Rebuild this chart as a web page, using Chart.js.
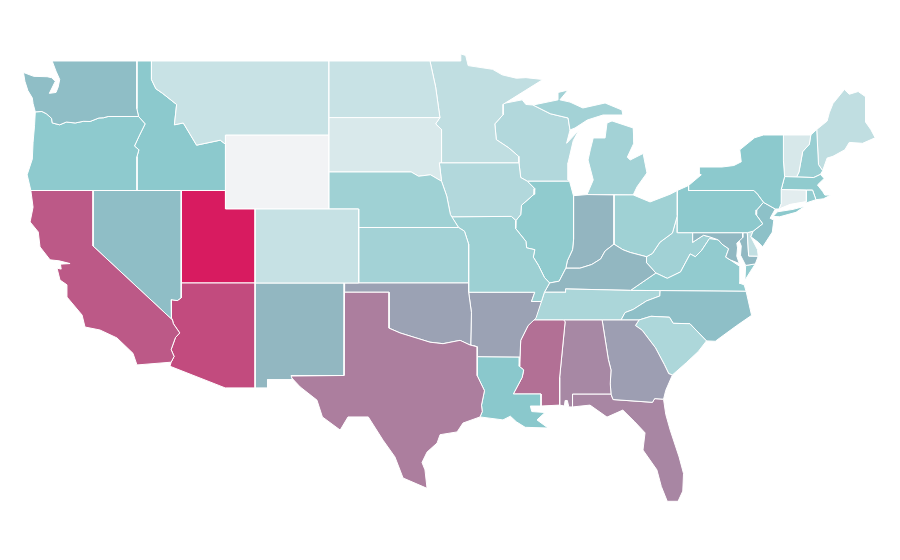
<!DOCTYPE html>
<html>
<head>
<meta charset="utf-8">
<style>html,body{margin:0;padding:0;background:#fff}canvas{display:block}</style>
<script src="https://cdn.jsdelivr.net/npm/chart.js@4"></script>
</head>
<body>
<canvas id="c" width="900" height="560"></canvas>
<script>
// State outlines, longitude,latitude pairs
const WA=[-122.76,49,-117.03,49,-117.04,46.42,-116.92,46,-118.98,46,-119.3,45.93,-119.6,45.92,-120.2,45.73,-120.65,45.74,-121.2,45.65,-121.8,45.7,-122.25,45.55,-122.75,45.65,-122.8,45.9,-123.15,46.15,-123.45,46.27,-123.9,46.25,-124.05,46.7,-124.1,47,-124.4,47.4,-124.6,47.9,-124.7,48.38,-124,48.17,-123.1,48.15,-122.8,48.1,-122.55,47.9,-122.95,47.25,-122.5,47.3,-122.35,47.6,-122.25,48,-122.5,48.45];
const OR=[-123.9,46.25,-123.45,46.27,-123.15,46.15,-122.8,45.9,-122.75,45.65,-122.25,45.55,-121.8,45.7,-121.2,45.65,-120.65,45.74,-120.2,45.73,-119.6,45.92,-119.3,45.93,-118.98,46,-116.92,46,-116.48,45.6,-116.85,45,-117.2,44.4,-116.9,44.2,-117.03,43.83,-117.03,42,-124.2,42,-124.45,42.85,-124.1,43.7,-124.05,44.6,-123.95,45.5];
const CA=[-124.2,42,-120,42,-120,39,-114.63,35,-114.57,34.8,-114.14,34.3,-114.43,34.05,-114.72,33.4,-114.52,33.03,-114.72,32.72,-117.03,32.57,-117.3,33.2,-118.38,34.03,-119.53,34.46,-120.54,34.62,-120.74,35.27,-121.76,36.24,-121.76,36.9,-122.23,37.16,-122.43,37.8,-122.15,37.75,-122.2,38.02,-121.55,38.05,-122.3,38.2,-122.9,38.25,-123.58,38.95,-123.7,39.76,-124.25,40.3,-124.05,41.1];
const NV=[-120,42,-114.04,42,-114.04,36.2,-114.3,36.05,-114.72,36.1,-114.7,35.1,-114.63,35,-120,39];
const AZ=[-114.04,37,-109.05,37,-109.05,31.33,-111.07,31.33,-114.8,32.5,-114.72,32.72,-114.52,33.03,-114.72,33.4,-114.43,34.05,-114.14,34.3,-114.57,34.8,-114.63,35,-114.7,35.1,-114.72,36.1,-114.3,36.05,-114.04,36.2];
const UT=[-114.04,42,-111.05,42,-111.05,41,-109.05,41,-109.05,37,-114.04,37];
const WY=[-111.05,45,-104.05,45,-104.05,41,-111.05,41];
const CO=[-109.05,41,-102.05,41,-102.05,37,-109.05,37];
const NM=[-109.05,37,-103,37,-103.04,32,-106.62,32,-106.53,31.78,-108.21,31.78,-108.21,31.33,-109.05,31.33];
const TX=[-103.04,36.5,-100,36.5,-100,34.56,-99.25,34.3,-98.04,34,-97.23,33.8,-96.35,33.72,-95.2,33.9,-94.53,33.65,-94.04,33.55,-94.04,33.02,-94.04,31.99,-93.55,31.18,-93.75,30.4,-93.7,30.05,-93.85,29.76,-95,29.43,-95.4,28.95,-96.55,28.8,-96.75,28.35,-97.43,27.86,-97.77,27.3,-97.57,26.9,-97.43,25.9,-99.05,26.46,-99.6,27.6,-100.4,28.5,-101.4,29.76,-102.77,29.76,-103.3,29.05,-104.5,29.76,-104.87,30.67,-106,31.38,-106.69,31.97,-103.04,32];
const OK=[-103,37,-94.62,37,-94.62,36.5,-94.43,35.4,-94.48,33.64,-94.04,33.55,-94.53,33.65,-95.2,33.9,-96.35,33.72,-97.23,33.8,-98.04,34,-99.25,34.3,-100,34.56,-100,36.5,-103.04,36.5];
const KS=[-102.05,40,-95.3,40,-94.9,39.8,-94.62,39.1,-94.62,37,-102.05,37];
const NE=[-104.05,43,-98.5,43,-98,42.77,-97.2,42.85,-96.45,42.5,-96.1,41.7,-95.85,40.7,-95.3,40,-102.05,40,-102.05,41,-104.05,41];
const SD=[-104.05,45.94,-96.56,45.94,-96.85,45.6,-96.45,45.3,-96.45,43.5,-96.6,43.5,-96.45,42.5,-97.2,42.85,-98,42.77,-98.5,43,-104.05,43];
const ND=[-104.05,49,-97.23,49,-96.85,47.6,-96.56,45.94,-104.05,45.94];
const MT=[-116.05,49,-104.05,49,-104.05,45,-111.05,45,-111.05,44.5,-111.4,44.72,-113,44.45,-113.45,45.05,-113.9,45.65,-114.5,45.55,-114.35,46.65,-115.3,47.25,-115.75,47.5,-116.05,48];
const ID=[-117.03,49,-116.05,49,-116.05,48,-115.75,47.5,-115.3,47.25,-114.35,46.65,-114.5,45.55,-113.9,45.65,-113.45,45.05,-113,44.45,-111.4,44.72,-111.05,44.5,-111.05,42,-117.03,42,-117.03,43.83,-116.9,44.2,-117.2,44.4,-116.85,45,-116.48,45.6,-116.92,46,-117.04,46.42];
const MN=[-97.23,49,-95.15,49,-95.15,49.38,-94.82,49.3,-94.65,48.75,-93,48.55,-92.35,48.25,-91.4,48.07,-90.75,48.1,-89.6,48,-92.1,46.75,-92.29,46.66,-92.29,46.1,-92.85,45.6,-92.75,44.75,-91.9,44.3,-91.25,43.85,-91.22,43.5,-96.45,43.5,-96.45,45.3,-96.85,45.6,-96.56,45.94,-96.85,47.6];
const IA=[-96.45,43.5,-91.22,43.5,-91.1,42.7,-90.65,42.5,-90.15,42.1,-90.2,41.8,-91.05,41.2,-91.1,40.7,-91.42,40.38,-91.73,40.6,-95.77,40.58,-95.85,40.7,-96.1,41.7,-96.45,42.5,-96.6,43.5];
const MO=[-95.77,40.58,-91.73,40.6,-91.42,40.38,-91.45,39.95,-90.75,39.25,-90.7,38.9,-90.15,38.8,-90.25,38.4,-89.9,37.95,-89.5,37.3,-89.15,37,-89.5,36.5,-89.7,36,-90.37,36,-90.15,36.5,-94.62,36.5,-94.62,39.1,-94.9,39.8,-95.3,40];
const AR=[-94.62,36.5,-90.15,36.5,-90.37,36,-89.7,36,-90.07,35.1,-90.6,34.7,-91.1,33.9,-91.15,33,-94.04,33.02,-94.04,33.55,-94.48,33.64,-94.43,35.4];
const LA=[-94.04,33.02,-91.15,33,-91.2,32.5,-90.9,32.3,-91,31.9,-91.6,31,-89.73,31,-89.73,30.35,-90.45,30.35,-90.35,30.05,-89.46,30,-90,29.6,-89.25,29.16,-90.8,29.2,-91.4,29.5,-91.8,29.8,-92.3,29.6,-93.85,29.76,-93.7,30.05,-93.75,30.4,-93.55,31.18,-94.04,31.99];
const MS=[-90.3,35,-88.2,35,-88.1,34.9,-88.47,31.9,-88.47,30.4,-89.73,30.35,-89.73,31,-91.6,31,-91,31.9,-90.9,32.3,-91.2,32.5,-91.15,33,-91.1,33.9,-90.6,34.7];
const AL=[-88.2,35,-85.6,35,-85.18,32.87,-85,32.3,-85.05,31.55,-85,31,-87.6,31,-87.6,30.3,-87.85,30.3,-87.95,30.65,-88.1,30.65,-88.15,30.35,-88.47,30.4,-88.47,31.9,-88.1,34.9];
const GA=[-85.6,35,-83.11,35,-83.35,34.7,-82.9,34.45,-82,33.5,-81.4,32.6,-81.1,32.1,-80.85,32.03,-81.3,31.2,-81.45,30.72,-82.05,30.75,-82.2,30.55,-84.86,30.7,-85,31,-85.05,31.55,-85,32.3,-85.18,32.87];
const FL=[-87.6,31,-85,31,-84.86,30.7,-82.2,30.55,-82.05,30.75,-81.45,30.72,-81.3,29.9,-81,29.05,-80.4,27.6,-80.1,26.7,-80.15,25.75,-80.47,25.2,-81.2,25.2,-81.6,26,-81.9,26.9,-82.84,27.97,-82.7,28.9,-83.4,29.5,-84.2,30.13,-85.27,29.75,-86.42,30.4,-87.6,30.3];
const SC=[-83.35,34.7,-83.11,35,-82.3,35.2,-81.05,35.15,-80.8,34.82,-79.67,34.8,-78.55,33.87,-79.1,33.3,-79.9,32.7,-80.85,32.03,-81.1,32.1,-81.4,32.6,-82,33.5,-82.9,34.45];
const NC=[-81.68,36.59,-75.87,36.55,-75.5,35.25,-76.5,34.7,-77.7,34,-77.95,33.85,-78.55,33.87,-79.67,34.8,-80.8,34.82,-81.05,35.15,-82.3,35.2,-83.11,35,-84.32,35,-84.05,35.4,-83.5,35.57,-82.6,36.03,-81.7,36.3];
const TN=[-90.3,35,-89.7,36,-89.5,36.5,-88.05,36.5,-88.07,36.68,-83.68,36.6,-81.68,36.59,-81.7,36.3,-82.6,36.03,-83.5,35.57,-84.05,35.4,-84.32,35,-85.6,35,-88.2,35];
const KY=[-89.5,36.5,-89.15,37,-88.5,37.1,-88.05,37.8,-87.1,37.8,-86.3,38,-85.7,38.3,-85.4,38.73,-84.8,39.1,-84.2,38.8,-83.7,38.65,-82.6,38.42,-82.6,38.1,-81.97,37.54,-83.68,36.6,-88.07,36.68,-88.05,36.5];
const IL=[-90.65,42.5,-87.8,42.5,-87.53,41.7,-87.53,39.35,-87.6,38.8,-87.95,38.2,-88.05,37.8,-88.5,37.1,-89.15,37,-89.5,37.3,-89.9,37.95,-90.25,38.4,-90.15,38.8,-90.7,38.9,-90.75,39.25,-91.45,39.95,-91.42,40.38,-91.1,40.7,-91.05,41.2,-90.2,41.8,-90.15,42.1];
const IN=[-87.53,41.72,-86.62,41.78,-84.8,41.76,-84.8,39.1,-85.4,38.73,-85.7,38.3,-86.3,38,-87.1,37.8,-88.05,37.8,-87.95,38.2,-87.6,38.8,-87.53,39.35];
const OH=[-84.8,41.76,-83.5,41.76,-82.36,41.38,-81,41.8,-80.52,42,-80.52,40.64,-80.85,39.7,-81.7,39.2,-82.2,38.6,-82.6,38.42,-83.7,38.65,-84.2,38.8,-84.8,39.1];
const MI_lower=[-86.62,41.78,-86.2,42.57,-86.55,43.65,-86.4,44.2,-86.2,44.84,-85.4,44.84,-85.27,45.65,-84.93,45.76,-83.5,45.38,-83.45,44.57,-83.9,43.8,-83.7,43.65,-82.83,44,-82.57,42.95,-83.24,42.2,-83.5,41.76];
const MI_upper=[-90.27,46.62,-88.58,46.9,-88.58,47.3,-87.9,47.43,-88.45,46.9,-87.77,46.78,-86.9,46.46,-85.4,46.73,-84.26,46.35,-84.2,46.08,-85.54,46.08,-86.6,45.81,-87.43,45.38,-87.77,45.27,-87.9,45.92,-89.1,46.15];
const WI=[-92.3,46.7,-91,46.9,-90.75,46.65,-90.27,46.62,-89.1,46.15,-87.9,45.92,-87.77,45.27,-88,44.55,-87.15,45.28,-87.55,44.7,-87.9,43.5,-87.9,42.57,-87.8,42.5,-90.65,42.5,-91.1,42.7,-91.22,43.5,-91.25,43.85,-91.9,44.3,-92.75,44.75,-92.85,45.6,-92.29,46.1];
const PA=[-80.52,42,-79.76,42.27,-79.76,42,-75.35,42,-75.1,41.8,-74.7,41.36,-75.15,40.95,-75.2,40.7,-74.75,40.2,-75.4,39.8,-75.79,39.72,-80.52,39.72];
const NY=[-79.76,42,-75.35,42,-75.1,41.8,-74.7,41.36,-73.9,41,-73.65,41,-73.5,41.3,-73.5,42.05,-73.27,42.75,-73.35,43.6,-73.35,45,-74.7,45,-75.3,44.85,-76.3,44.2,-76.2,43.55,-76.7,43.35,-77.5,43.27,-79.05,43.27,-79.05,42.9,-78.9,42.85,-79.76,42.27];
const NY_long=[-74.05,40.6,-73.75,40.85,-72.7,40.98,-71.9,41.15,-72.5,40.82,-73.6,40.58];
const NJ=[-74.7,41.36,-73.9,41,-74.25,40.5,-74,40.4,-74.1,39.75,-74.75,38.95,-75.05,39.2,-75.55,39.5,-75.4,39.8,-74.75,40.2,-75.2,40.7,-75.15,40.95];
const DE=[-75.79,39.72,-75.4,39.8,-75.55,39.5,-75.1,38.8,-75.05,38.45,-75.7,38.46];
const MD_west=[-79.48,39.72,-76.1,39.72,-76.1,39.45,-76.5,39.15,-76.45,38.9,-76.5,38.45,-76.33,38.05,-76.95,38.25,-77.25,38.4,-77.05,38.85,-77.5,39.1,-77.75,39.33,-78.35,39.5,-78.75,39.58,-79.48,39.2];
const MD_east=[-76.1,39.72,-75.79,39.72,-75.7,38.46,-75.05,38.45,-75.25,38.03,-75.9,37.95,-76.25,38.5,-76.2,39,-76.35,39.3,-76.1,39.5];
const VA=[-83.68,36.6,-81.68,36.59,-75.87,36.55,-76,36.9,-76.35,37,-76.3,37.55,-76.3,37.9,-76.95,38.25,-77.25,38.4,-77.05,38.85,-77.5,39.1,-77.75,39.33,-78.35,39.4,-78.87,38.77,-79.3,38.42,-79.65,38.57,-80.3,37.6,-81.2,37.25,-81.97,37.54];
const VA_shore=[-75.25,38.03,-75.9,37.95,-75.95,37.15,-75.6,37.6];
const WV=[-82.6,38.42,-82.2,38.6,-81.7,39.2,-80.85,39.7,-80.52,40.64,-80.52,39.72,-79.48,39.72,-79.48,39.2,-78.75,39.58,-78.35,39.5,-77.75,39.33,-78.35,39.4,-78.87,38.77,-79.3,38.42,-79.65,38.57,-80.3,37.6,-81.2,37.25,-81.97,37.54,-82.6,38.1];
const CT=[-73.65,41,-73.5,41.3,-73.5,42.05,-71.8,42.02,-71.8,41.4,-72.9,41.25];
const RI=[-71.8,42.02,-71.38,42.02,-71.15,41.5,-71.85,41.32];
const MA=[-73.5,42.05,-73.27,42.75,-71.3,42.7,-70.85,42.87,-70.6,42.65,-71.05,42.3,-70.7,41.95,-70.55,41.75,-70.15,41.75,-70.65,41.55,-71.15,41.5,-71.38,42.02,-71.8,42.02];
const VT=[-73.35,45,-71.5,45,-71.6,44.5,-72.05,44.1,-72.3,43,-72.46,42.73,-73.27,42.75,-73.35,43.6];
const NH=[-71.5,45,-71.1,45.3,-70.98,43.4,-70.7,43.07,-70.85,42.87,-71.3,42.7,-72.46,42.73,-72.3,43,-72.05,44.1,-71.6,44.5];
const ME=[-71.1,45.3,-70.4,45.75,-70.25,46.2,-70,46.7,-69.23,47.46,-68.9,47.2,-68.3,47.35,-67.8,47.07,-67.8,45.7,-67.45,45.3,-67.15,44.85,-68,44.55,-68.9,44.6,-69.2,44.2,-70,43.85,-70.4,43.75,-70.7,43.07,-70.98,43.4];

const regionOutlines=[WA,OR,CA,NV,AZ,UT,CO,NM,TX,OK,KS,NE,SD,ND,MT,ID,MN,IA,MO,AR,LA,MS,AL,GA,FL,SC,NC,TN,KY,IL,IN,OH,MI_lower,MI_upper,WI,PA,NY,NY_long,NJ,DE,MD_west,MD_east,VA,VA_shore,WV,CT,RI,MA,VT,NH,ME,WY];
const regionNames=['Washington','Oregon','California','Nevada','Arizona','Utah','Colorado','New Mexico','Texas','Oklahoma','Kansas','Nebraska','South Dakota','North Dakota','Montana','Idaho','Minnesota','Iowa','Missouri','Arkansas','Louisiana','Mississippi','Alabama','Georgia','Florida','South Carolina','North Carolina','Tennessee','Kentucky','Illinois','Indiana','Ohio','Michigan','Michigan','Wisconsin','Pennsylvania','New York','New York','New Jersey','Delaware','Maryland','Maryland','Virginia','Virginia','West Virginia','Connecticut','Rhode Island','Massachusetts','Vermont','New Hampshire','Maine','Wyoming'];
const regionValues=[53,48,82,53,86,100,21,55,71.5,61,38,40,12,20,20,49,24,31,41,61,50,75.5,68.5,62,69,33,52.5,34,55,47,55.5,40,38,38,31,48.5,49,49,52,23,54.5,54.5,46,46,39,7,45,47,13,43,24,0];

const scaleStops=[[242,243,245],[138,200,204],[216,27,96]];
function colorFor(v){
  const lo=v<50?0:1, t=(v-lo*50)/50, a=scaleStops[lo], b=scaleStops[lo+1];
  return 'rgb('+a.map((c,i)=>Math.round(c+(b[i]-c)*t)).join(',')+')';
}
function toPoints(flat){
  const pts=[];
  for(let i=0;i<flat.length;i+=2)pts.push({x:flat[i],y:flat[i+1]});
  pts.push({x:flat[0],y:flat[1]});
  return pts;
}
new Chart(document.getElementById('c'),{
  type:'line',
  data:{datasets:regionOutlines.map((o,i)=>({
    label:regionNames[i],
    data:toPoints(o),
    backgroundColor:colorFor(regionValues[i]),
    borderColor:'#ffffff',
    borderWidth:1,
    pointRadius:0,
    pointHoverRadius:0,
    tension:0,
    fill:'shape'
  }))},
  options:{
    responsive:false,
    animation:false,
    layout:{padding:0},
    plugins:{legend:{display:false},tooltip:{enabled:false}},
    scales:{
      x:{type:'linear',display:false,min:-126.284,max:-65.473},
      y:{type:'linear',display:false,min:22.027,max:52.297}
    }
  }
});
</script>
</body>
</html>
